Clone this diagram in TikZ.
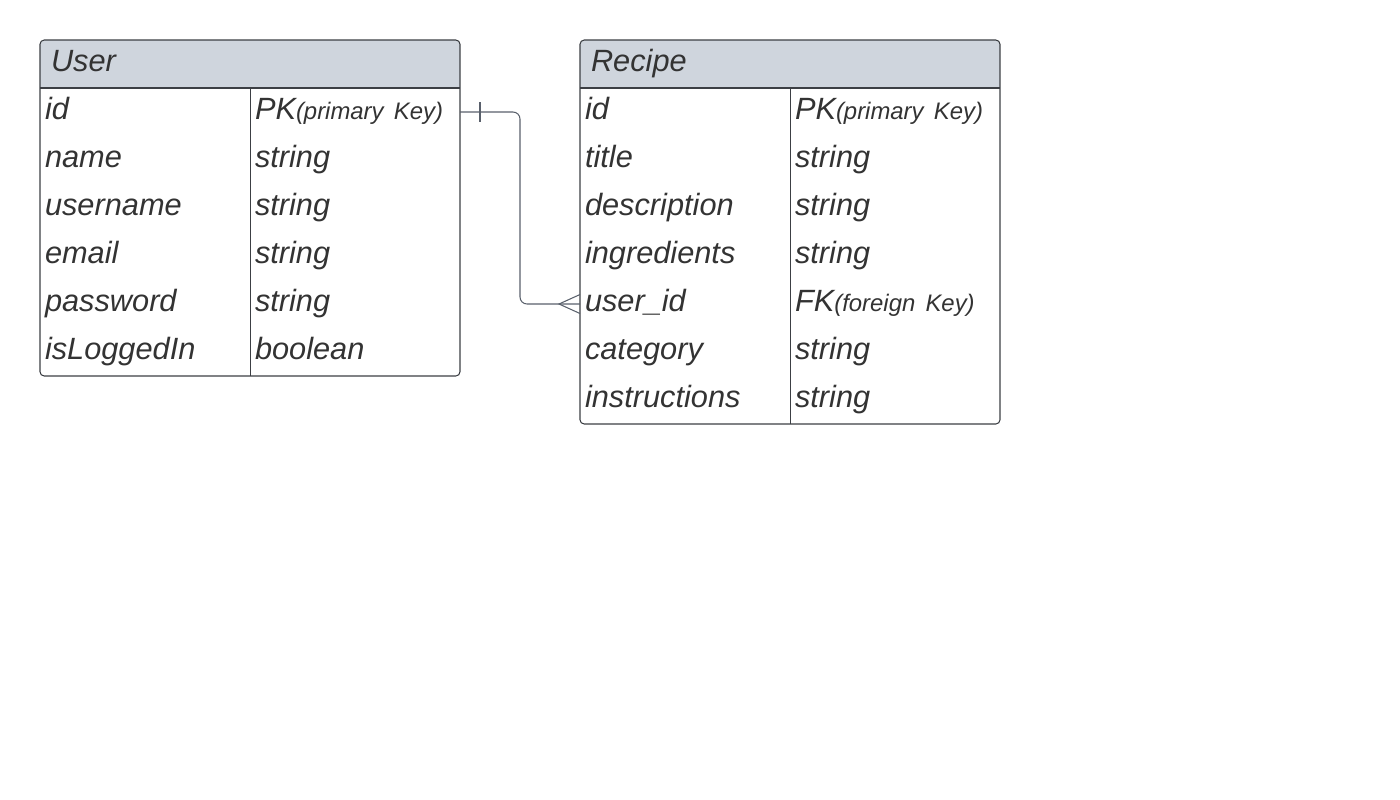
\documentclass[tikz,border=0pt]{standalone}
\usepackage{fontspec}
\setmainfont{Liberation Sans}
\usetikzlibrary{positioning}
\usetikzlibrary{fit}
\usetikzlibrary{backgrounds}

\definecolor{headfill}{HTML}{CFD5DD}
\definecolor{inkgrey}{HTML}{333333}
\definecolor{linegrey}{HTML}{3C3F44}
\definecolor{conngrey}{HTML}{59606B}
\newcommand{\keynote}[1]{{\fontsize{13.6}{16}\selectfont #1}}

\begin{document}
\begin{tikzpicture}[head/.style={rectangle, anchor=north west, align=left, text width=7.96cm, inner xsep=0.22cm, inner ysep=0, outer sep=0, minimum height=0.96cm, text height=0.62cm, text depth=0.34cm, font=\fontsize{17.5}{20}\selectfont\itshape, text=inkgrey},attr/.style={rectangle, align=left, text width=4cm, inner xsep=0.1cm, inner ysep=0, outer sep=0, minimum height=0.96cm, text height=0.62cm, text depth=0.34cm, font=\fontsize{17.5}{20}\selectfont\itshape, text=inkgrey},frame/.style={rectangle, draw=linegrey, line width=0.6pt, rounded corners=2.4pt, inner sep=0, outer sep=0},conn/.style={draw=conngrey, line width=0.6pt}]
	\useasboundingbox (0,0) rectangle (28,-15.98);

	% user table
	\node[head] (user) at (0.8,-0.8) {User};
	\node[attr, below right=0pt of user.south west] (uid) {id};
	\node[attr, right=0pt of uid] (uidt) {PK\keynote{(primary Key)}};
	\node[attr, below=0pt of uid] (uname) {name};
	\node[attr, right=0pt of uname] (unamet) {string};
	\node[attr, below=0pt of uname] (uuser) {username};
	\node[attr, right=0pt of uuser] (uusert) {string};
	\node[attr, below=0pt of uuser] (uemail) {email};
	\node[attr, right=0pt of uemail] (uemailt) {string};
	\node[attr, below=0pt of uemail] (upass) {password};
	\node[attr, right=0pt of upass] (upasst) {string};
	\node[attr, below=0pt of upass] (ulog) {isLoggedIn};
	\node[attr, right=0pt of ulog] (ulogt) {boolean};

	% recipe table
	\node[head, right=2.4cm of user] (recipe) {Recipe};
	\node[attr, below right=0pt of recipe.south west] (rid) {id};
	\node[attr, right=0pt of rid] (ridt) {PK\keynote{(primary Key)}};
	\node[attr, below=0pt of rid] (rtitle) {title};
	\node[attr, right=0pt of rtitle] (rtitlet) {string};
	\node[attr, below=0pt of rtitle] (rdesc) {description};
	\node[attr, right=0pt of rdesc] (rdesct) {string};
	\node[attr, below=0pt of rdesc] (ring) {ingredients};
	\node[attr, right=0pt of ring] (ringt) {string};
	\node[attr, below=0pt of ring] (ruser) {user\_id};
	\node[attr, right=0pt of ruser] (rusert) {FK\keynote{(foreign Key)}};
	\node[attr, below=0pt of ruser] (rcat) {category};
	\node[attr, right=0pt of rcat] (rcatt) {string};
	\node[attr, below=0pt of rcat] (rinst) {instructions};
	\node[attr, right=0pt of rinst] (rinstt) {string};

	% frames
	\node[frame, fit=(user)(ulog)(ulogt)] (userbox) {};
	\node[frame, fit=(recipe)(rinst)(rinstt)] (recipebox) {};
	\begin{scope}[on background layer]
		\begin{scope}
			\clip[rounded corners=2.4pt] (userbox.north west) rectangle (userbox.south east);
			\fill[headfill] (user.north west) rectangle (user.south east);
		\end{scope}
		\begin{scope}
			\clip[rounded corners=2.4pt] (recipebox.north west) rectangle (recipebox.south east);
			\fill[headfill] (recipe.north west) rectangle (recipe.south east);
		\end{scope}
	\end{scope}
	\draw[draw=linegrey, line width=0.6pt] (user.south west) -- (user.south east);
	\draw[draw=linegrey, line width=0.5pt] (uid.north east) -- (ulog.south east);
	\draw[draw=linegrey, line width=0.6pt] (recipe.south west) -- (recipe.south east);
	\draw[draw=linegrey, line width=0.5pt] (rid.north east) -- (rinst.south east);

	% edges
	\draw[conn, rounded corners=4pt] (uidt.east) -- ++(1.2,0) |- (ruser.west);
	\draw[conn] ([xshift=0.4cm, yshift=0.2cm]uidt.east) -- ([xshift=0.4cm, yshift=-0.2cm]uidt.east);
	\draw[conn] ([yshift=0.19cm]ruser.west) -- ([xshift=-0.42cm]ruser.west) -- ([yshift=-0.19cm]ruser.west);
\end{tikzpicture}
\end{document}
